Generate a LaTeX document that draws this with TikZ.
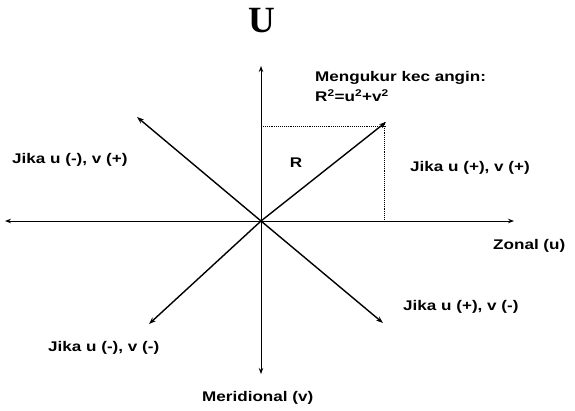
\documentclass[tikz,border=0pt]{standalone}
\usepackage{fontspec}
\setmainfont{Liberation Sans}[FakeStretch=1.22]
\newfontfamily\titlefont{Liberation Serif}
\usetikzlibrary{arrows.meta}
\begin{document}
\begin{tikzpicture}[x=1pt,y=-1pt,
  axis/.style={line width=1pt,-{Stealth[length=6pt,width=4.5pt]}},
  diag/.style={line width=1.4pt,-{Stealth[length=7pt,width=5pt]}},
  guide/.style={line width=0.9pt,densely dotted},
  lbl/.style={font=\fontsize{14}{16}\selectfont\bfseries,inner sep=0pt},
  ]
\useasboundingbox (0,0) rectangle (575,410);
\coordinate (O) at (261,221);
\coordinate (T) at (261,66);
\coordinate (B) at (261,374);
\coordinate (L) at (5,221);
\coordinate (Rr) at (514,221);
\coordinate (UR) at (386,122);
\coordinate (UL) at (137,117);
\coordinate (LL) at (149,324);
\coordinate (LR) at (383,323);
\coordinate (Htop) at (261,126);
\coordinate (Vbot) at (384,221);
\draw[axis] (O) -- (T);
\draw[axis] (O) -- (B);
\draw[axis] (O) -- (L);
\draw[axis] (O) -- (Rr);
\draw[diag] (O) -- (UR);
\draw[diag] (O) -- (UL);
\draw[diag] (O) -- (LL);
\draw[diag] (O) -- (LR);
\draw[guide] (Htop) -- (UR |- Htop);
\draw[guide] (Vbot |- UR) -- (Vbot);
\node[inner sep=0pt,font=\titlefont\fontsize{37}{37}\selectfont\bfseries] (title) at (262,21) {U};
\node[lbl,anchor=west] (m1) at (315,78) {Mengukur kec angin:};
\node[lbl,anchor=west] (m2) at (315,96) {R\textsuperscript{2}=u\textsuperscript{2}+v\textsuperscript{2}};
\node[lbl] (r) at (296,163) {R};
\node[lbl,anchor=west] (q1) at (410,168) {Jika u (+), v (+)};
\node[lbl,anchor=west] (q2) at (12,160) {Jika u (-), v (+)};
\node[lbl,anchor=west] (zon) at (493,246) {Zonal (u)};
\node[lbl,anchor=west] (q4) at (403,307) {Jika u (+), v (-)};
\node[lbl,anchor=west] (q3) at (48,348) {Jika u (-), v (-)};
\node[lbl,anchor=west] (mer) at (202,398) {Meridional (v)};
\end{tikzpicture}
\end{document}
